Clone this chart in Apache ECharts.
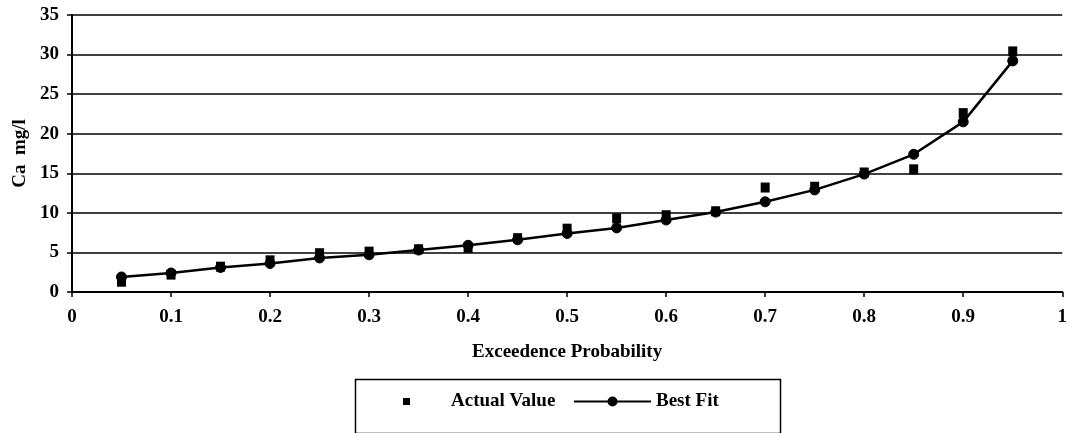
<!DOCTYPE html>
<html>
<head>
<meta charset="utf-8">
<script src="https://cdn.jsdelivr.net/npm/echarts@6/dist/echarts.min.js"></script>
<style>
html,body{margin:0;padding:0;background:#fff;}
#chart{width:1070px;height:433px;}
</style>
</head>
<body>
<div id="chart"></div>
<script>
var probabilities = [0.05, 0.10, 0.15, 0.20, 0.25, 0.30, 0.35, 0.40, 0.45, 0.50, 0.55, 0.60, 0.65, 0.70, 0.75, 0.80, 0.85, 0.90, 0.95];
var actualValues = [1.3, 2.2, 3.2, 4.0, 4.9, 5.1, 5.4, 5.6, 6.8, 8.0, 9.3, 9.7, 10.2, 13.2, 13.3, 15.1, 15.5, 22.6, 30.4];
var bestFit = [1.9, 2.4, 3.1, 3.6, 4.3, 4.7, 5.3, 5.9, 6.6, 7.4, 8.1, 9.1, 10.1, 11.4, 12.9, 14.9, 17.4, 21.5, 29.2];
var seriesNames = ['Actual Value', 'Best Fit'];
var xAxisTitle = 'Exceedence Probability';
var yAxisTitle = 'Ca  mg/l';

function pairs(xs, ys) { return xs.map(function (x, i) { return [x, ys[i]]; }); }

var FONT = "'Liberation Serif', 'Times New Roman', serif";
var txt = { fontFamily: FONT, fontWeight: 'bold', fontSize: 19, color: '#000' };

var chart = echarts.init(document.getElementById('chart'), null, { renderer: 'canvas' });
chart.setOption({
  animation: false,
  backgroundColor: '#fff',
  grid: { left: 72, right: 7, top: 15, bottom: 141, containLabel: false },
  xAxis: {
    type: 'value', min: 0, max: 1, interval: 0.1,
    name: xAxisTitle, nameLocation: 'middle', nameGap: 51, nameTextStyle: txt,
    axisLine: { show: true, lineStyle: { color: '#000', width: 2 } },
    axisTick: { show: true, length: 5, lineStyle: { color: '#000', width: 1.5 } },
    axisLabel: Object.assign({ margin: 16, formatter: function (v) { return String(Math.round(v * 10) / 10); } }, txt),
    splitLine: { show: false }
  },
  yAxis: {
    type: 'value', min: 0, max: 35, interval: 5,
    name: yAxisTitle, nameLocation: 'middle', nameGap: 42, nameRotate: 90, nameTextStyle: txt,
    axisLine: { show: true, lineStyle: { color: '#000', width: 2 } },
    axisTick: { show: true, length: 5, lineStyle: { color: '#000', width: 1.5 } },
    axisLabel: Object.assign({ margin: 13 }, txt),
    splitLine: { show: true, lineStyle: { color: '#000', width: 1.5 } }
  },
  legend: [
    {
      data: [{ name: seriesNames[0], icon: 'rect' }],
      left: 403, top: 392, padding: 0,
      itemWidth: 7, itemHeight: 7,
      textStyle: Object.assign({ padding: [0, 0, 0, 36] }, txt)
    },
    {
      data: [seriesNames[1]],
      left: 573, top: 392, padding: 0,
      itemWidth: 77, itemHeight: 10,
      textStyle: txt
    }
  ],
  graphic: [{
    type: 'rect', left: 353, top: 377,
    shape: { width: 425, height: 54 },
    style: { fill: 'none', stroke: '#000', lineWidth: 1.5 },
    silent: true
  }],
  series: [
    {
      name: seriesNames[0], type: 'scatter',
      data: pairs(probabilities, actualValues),
      symbol: 'rect', symbolSize: [9, 10],
      itemStyle: { color: '#000', opacity: 1 },
      z: 3
    },
    {
      name: seriesNames[1], type: 'line',
      data: pairs(probabilities, bestFit),
      symbol: 'circle', symbolSize: 10, showSymbol: true,
      lineStyle: { color: '#000', width: 2.5 },
      itemStyle: { color: '#000', borderColor: '#000', borderWidth: 1, opacity: 1 },
      z: 2
    }
  ]
});
</script>
</body>
</html>
